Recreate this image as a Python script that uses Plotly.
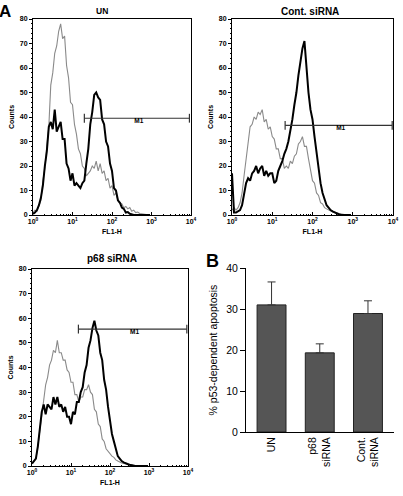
import plotly.graph_objects as go

# ---------------- data ----------------
LOG_CH = [0.00, 0.05, 0.10, 0.15, 0.20, 0.25, 0.30, 0.35, 0.40, 0.45,
          0.50, 0.55, 0.60, 0.65, 0.70, 0.75, 0.80, 0.85, 0.90, 0.95,
          1.00, 1.05, 1.10, 1.15, 1.20, 1.25, 1.30, 1.35, 1.40, 1.45,
          1.50, 1.55, 1.60, 1.65, 1.70, 1.75, 1.80, 1.85, 1.90, 1.95,
          2.00, 2.05, 2.10, 2.15, 2.20, 2.25, 2.30, 2.35, 2.40, 2.45,
          2.50, 2.55, 2.60, 2.65, 2.70, 2.75, 2.80, 2.85, 2.90, 2.95]

UN_GRAY = [1, 2, 1.5, 4, 6, 14, 19, 28, 36, 53,
           58, 66, 69, 75, 78, 72, 73, 61, 56, 46,
           45, 37, 33, 27, 25, 20, 19, 16, 17, 18,
           20, 19, 22, 18, 21, 17, 18, 14, 15, 11,
           12, 8, 9, 6, 5, 4.5, 3, 3.5, 2.5, 3,
           1.5, 2, 1, 1.2, 0.6, 0.5, 0.2, 0, 0, 0]
UN_BLACK = [0.5, 1, 2, 4, 7, 12, 20, 26, 36, 38,
            35, 43, 34, 36, 38, 31, 31, 21, 19, 14,
            17, 12, 13, 12, 11, 13, 14, 21, 27, 37,
            42, 49, 50, 48, 47, 39, 37, 30, 28, 21,
            18, 11, 10, 6, 5, 3, 2.5, 1, 1.2, 0.5,
            0.2, 0, 0, 0, 0, 0, 0, 0, 0, 0]

CONT_GRAY = [2, 3, 2, 3, 5, 9, 16, 23, 29, 36,
             37, 40, 39, 42, 41, 43, 38, 39, 35, 36,
             32, 31, 27, 27, 23, 23, 19, 20, 19, 22,
             21, 24, 25, 29, 30, 32, 28, 28, 23, 19,
             14, 13, 9, 8, 5, 4.5, 3, 2.5, 2, 1.5,
             1.2, 1, 0.8, 0.6, 0.5, 0.4, 0.2, 0, 0, 0]
CONT_BLACK = [17, 1, 1, 1.5, 2, 4, 9, 13, 15, 14,
              17, 18, 20, 17, 19, 20, 16, 18, 16, 17,
              17, 13, 14, 18, 20, 22, 25, 27, 30, 34,
              39, 45, 50, 57, 62, 68, 71, 60, 50, 43,
              39, 32, 25, 19, 13, 9, 6, 4, 3, 2,
              1.5, 1, 0.5, 0.3, 0, 0, 0, 0, 0, 0]

P68_GRAY = [1, 2, 3, 8, 14, 22, 28, 33, 36, 41,
            43, 47, 46, 51, 46, 46, 43, 43, 39, 38,
            34, 34, 29, 29, 26, 28, 28, 31, 31, 33,
            30, 29, 23, 22, 17, 16, 11, 10, 7, 6,
            5, 4, 3.5, 2.5, 2, 1.5, 1.2, 1, 0.8, 0.6,
            0.5, 0.4, 0.3, 0.2, 0, 0, 0, 0, 0, 0]
P68_BLACK = [1, 2, 3, 8, 14, 22, 25, 21, 25, 24,
             23, 28, 25, 28, 24, 25, 22, 24, 20, 20,
             17, 22, 21, 26, 26, 30, 32, 38, 41, 48,
             51, 56, 59, 55, 53, 46, 43, 35, 31, 24,
             19, 13, 10, 7, 4, 3, 2, 1.5, 1, 0.8,
             0.5, 0.3, 0, 0, 0, 0, 0, 0, 0, 0]

# M1 gate: (log start, log end, counts level)
GATE_UN = (1.30, 3.96, 39.5)
GATE_CONT = (1.32, 3.98, 36.6)
GATE_P68 = (1.19, 3.97, 55.6)

HIST_TITLES = ["UN", "Cont. siRNA", "p68 siRNA"]
X_TICK_VALS = [1, 10, 100, 1000, 10000]
X_TICK_TEXT = ["10<sup>0</sup>", "10<sup>1</sup>", "10<sup>2</sup>",
               "10<sup>3</sup>", "10<sup>4</sup>"]

BAR_CATS = ["UN", "p68<br>siRNA", "Cont.<br>siRNA"]
BAR_VALS = [31.0, 19.3, 28.9]
BAR_ERR = [5.6, 2.2, 3.1]

# ---------------- figure ----------------
W, H = 403, 496
FONT = "Liberation Sans"
X = [10 ** v for v in LOG_CH]

fig = go.Figure()

panels = [
    ("x", "y", UN_GRAY, UN_BLACK, GATE_UN),
    ("x2", "y2", CONT_GRAY, CONT_BLACK, GATE_CONT),
    ("x3", "y3", P68_GRAY, P68_BLACK, GATE_P68),
]
for xa, ya, gray, black, gate in panels:
    fig.add_trace(go.Scatter(x=X, y=gray, mode="lines", xaxis=xa, yaxis=ya,
                             line=dict(color="#8a8a8a", width=1.1),
                             showlegend=False, hoverinfo="skip"))
    fig.add_trace(go.Scatter(x=X, y=black, mode="lines", xaxis=xa, yaxis=ya,
                             line=dict(color="black", width=2),
                             showlegend=False, hoverinfo="skip"))
    g0, g1, lvl = gate
    x0, x1 = 10 ** g0, 10 ** g1
    fig.add_trace(go.Scatter(
        x=[x0, x0, None, x0, x1, None, x1, x1],
        y=[lvl - 1.8, lvl + 1.8, None, lvl, lvl, None, lvl - 1.8, lvl + 1.8],
        mode="lines", xaxis=xa, yaxis=ya,
        line=dict(color="#333333", width=1.2),
        showlegend=False, hoverinfo="skip"))
    fig.add_trace(go.Scatter(
        x=[10 ** ((g0 + g1) / 2 + 0.05)], y=[lvl], mode="text", text=["M1"],
        textposition="bottom center", xaxis=xa, yaxis=ya,
        textfont=dict(family=FONT, size=6.5, color="black", weight="bold"),
        showlegend=False, hoverinfo="skip"))

fig.add_trace(go.Bar(
    x=BAR_CATS, y=BAR_VALS, xaxis="x4", yaxis="y4", width=0.6,
    marker=dict(color="#555555", line=dict(color="#222222", width=1)),
    error_y=dict(type="data", array=BAR_ERR, arrayminus=[0, 0, 0],
                 symmetric=False, color="#333333", thickness=1, width=4),
    showlegend=False, hoverinfo="skip"))


def px_x(p):
    return p / W


def px_y(p):
    return 1 - p / H


tick_font = dict(family=FONT, size=7, color="black", weight="bold")
minor_x = [m * 10 ** d for d in range(4) for m in range(2, 10)]


def hist_x(dom, anchor):
    return dict(domain=dom, anchor=anchor, type="log", range=[0, 4],
                tickmode="array", tickvals=X_TICK_VALS, ticktext=X_TICK_TEXT,
                showline=True, mirror=True, linecolor="black", linewidth=1,
                ticks="inside", ticklen=3, tickcolor="black",
                minor=dict(tickmode="array", tickvals=minor_x, ticks="inside",
                           ticklen=1.5, tickcolor="black"),
                showgrid=False, zeroline=False, tickfont=tick_font,
                automargin=False,
                title=dict(text="FL1-H", font=tick_font, standoff=4))


def hist_y(dom, anchor):
    return dict(domain=dom, anchor=anchor, range=[0, 80], dtick=10,
                showline=True, mirror=True, linecolor="black", linewidth=1,
                ticks="outside", ticklen=3, tickcolor="black",
                minor=dict(dtick=2, ticks="outside", ticklen=1.5, tickcolor="black"),
                showgrid=False, zeroline=False, tickfont=tick_font,
                automargin=False,
                title=dict(text="Counts", font=tick_font, standoff=4))


bar_font = dict(family=FONT, size=10.5, color="black")

fig.update_layout(
    width=W, height=H, margin=dict(l=0, r=0, t=0, b=0),
    paper_bgcolor="white", plot_bgcolor="white",
    font=dict(family=FONT, color="black"),
    xaxis=hist_x([px_x(33), px_x(191)], "y"),
    yaxis=hist_y([px_y(215), px_y(19)], "x"),
    xaxis2=hist_x([px_x(232), px_x(393)], "y2"),
    yaxis2=hist_y([px_y(215), px_y(19)], "x2"),
    xaxis3=hist_x([px_x(32), px_x(188)], "y3"),
    yaxis3=hist_y([px_y(466), px_y(269)], "x3"),
    xaxis4=dict(domain=[px_x(246), px_x(394)], anchor="y4", type="category",
                range=[-0.53, 2.54], showline=True, linecolor="black",
                linewidth=1, ticks="", tickangle=-90, tickfont=bar_font,
                showgrid=False, zeroline=False, automargin=False),
    yaxis4=dict(domain=[px_y(432), px_y(268)], anchor="x4", range=[0, 40],
                dtick=10, showline=True, linecolor="black", linewidth=1,
                ticks="outside", ticklen=5, tickcolor="black",
                tickfont=bar_font, showgrid=False, zeroline=False,
                automargin=False,
                title=dict(text="% p53-dependent apoptosis", font=bar_font,
                           standoff=6)),
    bargap=0.4,
)

ann = [
    ("A", 5, 12, 17),
    ("B", 212, 261, 18),
    (HIST_TITLES[0], 102, 11, 8.5),
    (HIST_TITLES[1], 310, 12, 10),
    (HIST_TITLES[2], 112, 258, 10),
]
for text, xp, yp, size in ann:
    fig.add_annotation(x=px_x(xp), y=px_y(yp), xref="paper", yref="paper",
                       text=text, showarrow=False, xanchor="center",
                       yanchor="middle",
                       font=dict(family=FONT, size=size, color="black",
                                 weight="bold"))

fig.write_html("out.html",
               config={"displayModeBar": False},
               post_script="document.body.style.margin='0';"
                           "document.body.style.overflow='hidden';")
